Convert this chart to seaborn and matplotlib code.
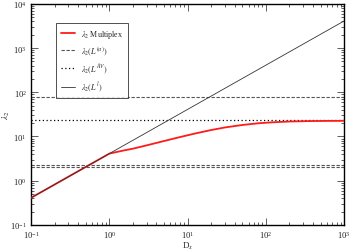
import numpy as np
import pandas as pd
import matplotlib
matplotlib.use("Agg")
import matplotlib.pyplot as plt
import seaborn as sns
from matplotlib.ticker import LogLocator, NullFormatter, LogFormatterMathtext

# data
dx_multiplex = [0.1, 1.0, 1.5, 2.0, 3.0, 5.0, 8.0, 12.0, 20.0, 30.0, 50.0, 80.0, 120.0, 200.0, 350.0, 600.0, 1000.0]
lam_multiplex = [0.41, 4.1, 4.8, 5.3, 6.3, 7.9, 9.7, 11.5, 14.0, 16.0, 18.2, 19.9, 20.9, 21.8, 22.3, 22.5, 22.6]
dx_layer = [0.1, 1000.0]
lam_layer = [0.41, 4100.0]
lam_alpha = [77.0, 2.25, 2.05]   # lambda_2(L^(alpha)) per layer
lam_av = 23.1                     # lambda_2(L^AV)
x_range = [0.1, 1000.0]

sns.set_theme(style="ticks")
plt.rcParams["font.family"] = ["Liberation Serif", "DejaVu Serif"]
plt.rcParams["mathtext.fontset"] = "stix"

fig = plt.figure(figsize=(3.53, 2.53), dpi=100)
ax = fig.add_axes([0.088, 0.107, 0.887, 0.874])

df_m = pd.DataFrame({"x": dx_multiplex, "y": lam_multiplex})
df_l = pd.DataFrame({"x": dx_layer, "y": lam_layer})

sns.lineplot(data=df_m, x="x", y="y", ax=ax, color="#ff1a1a", lw=1.3,
             label=r"$\lambda_2$ Multiplex", zorder=3)
for i, v in enumerate(lam_alpha):
    sns.lineplot(x=x_range, y=[v, v], ax=ax, color="#555555", lw=0.8,
                 linestyle=(0, (3, 1.5)),
                 label=r"$\lambda_2(L^{(\alpha)})$" if i == 0 else None)
sns.lineplot(x=x_range, y=[lam_av, lam_av], ax=ax, color="black", lw=0.9,
             linestyle=(0, (1, 2)), label=r"$\lambda_2(L^{AV})$")
sns.lineplot(data=df_l, x="x", y="y", ax=ax, color="#333333", lw=0.6,
             label=r"$\lambda_2(L^{l})$", zorder=4)

ax.set_xscale("log")
ax.set_yscale("log")
ax.set_xlim(0.1, 1000)
ax.set_ylim(0.1, 10000)

for axis in (ax.xaxis, ax.yaxis):
    axis.set_major_locator(LogLocator(base=10, numticks=10))
    axis.set_minor_locator(LogLocator(base=10, subs=np.arange(2, 10), numticks=10))
    axis.set_minor_formatter(NullFormatter())
    axis.set_major_formatter(LogFormatterMathtext())

ax.tick_params(which="both", direction="in", top=True, right=True, labelsize=6.2, width=0.6, color="#444444")
ax.tick_params(which="major", length=5, pad=3)
ax.tick_params(which="minor", length=2.5)
for s in ax.spines.values():
    s.set_linewidth(1.0)
    s.set_color("black")

ax.set_xlabel(r"D$_x$", fontsize=6.5)
ax.set_ylabel(r"$\lambda_2$", fontsize=6.5)
ax.xaxis.set_label_coords(0.5, -0.065)
ax.yaxis.set_label_coords(-0.062, 0.5)

leg = ax.legend(loc="upper left", bbox_to_anchor=(0.068, 0.93), fontsize=5.8,
                frameon=True, fancybox=False, edgecolor="black",
                handlelength=1.8, handletextpad=0.7, borderpad=0.55, labelspacing=0.55)
leg.get_frame().set_linewidth(0.6)

fig.savefig("out.png", dpi=100)
